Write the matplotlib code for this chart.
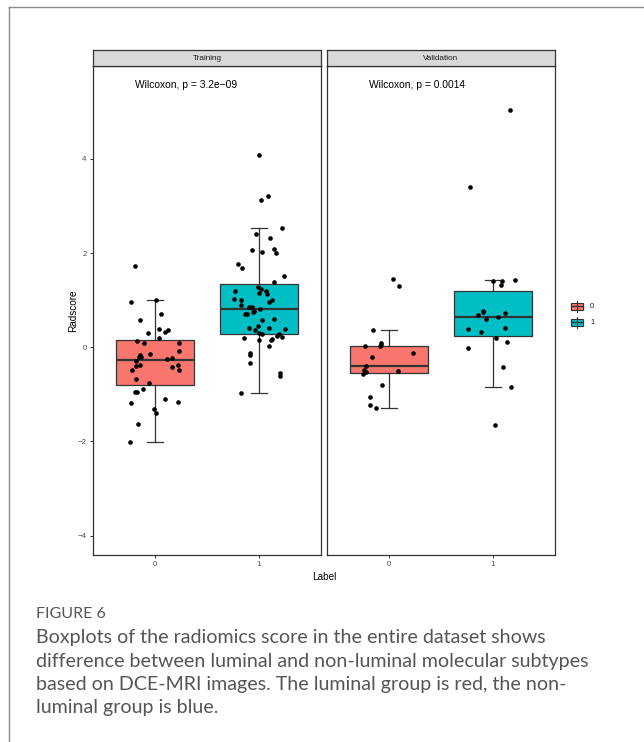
import numpy as np
import matplotlib.pyplot as plt
from matplotlib.patches import Rectangle
from matplotlib.lines import Line2D

# ---- data ----
groups = ['0', '1']
colors = ['#F8766D', '#00BFC4']
panels = ['Training', 'Validation']
pvals = ['Wilcoxon, p = 3.2e\u221209', 'Wilcoxon, p = 0.0014']

# box statistics (group 0, group 1)
tr_q1 = [-0.794, 0.289]
tr_med = [-0.263, 0.813]
tr_q3 = [0.155, 1.344]
tr_lo = [-2.01, -0.97]
tr_hi = [1.0, 2.526]

va_q1 = [-0.552, 0.234]
va_med = [-0.39, 0.637]
va_q3 = [0.034, 1.189]
va_lo = [-1.282, -0.849]
va_hi = [0.374, 1.435]

# jittered points: radscore and horizontal jitter offset
tr0_y = [1.726, 0.955, 0.998, 0.71, 0.58, 0.297, 0.389, 0.367, 0.331, 0.204, 0.14, 0.098, 0.085,
         -0.085, -0.142, -0.157, -0.2, -0.212, -0.242, -0.221, -0.297, -0.382, -0.397, -0.418,
         -0.488, -0.369, -0.475, -0.667, -0.758, -0.949, -0.955, -0.892, -1.176, -1.098, -1.168,
         -1.31, -1.401, -1.622, -2.017]
tr0_j = [-0.195, -0.23, 0.012, 0.052, -0.15, -0.066, 0.037, 0.127, 0.098, 0.034, -0.179, -0.104, 0.23,
         0.23, -0.05, -0.15, -0.137, -0.159, 0.118, 0.159, -0.188, -0.143, -0.185, 0.159,
         -0.22, 0.22, 0.227, -0.188, -0.056, -0.191, -0.172, -0.114, -0.234, 0.095, 0.22,
         -0.014, 0.005, -0.169, -0.246]

tr1_y = [4.076, 3.127, 3.212, 2.526, 2.399, 2.32, 2.066, 2.023, 2.094, 2.009, 1.769, 1.684, 1.514,
         1.386, 1.287, 1.244, 1.195, 1.202, 1.153, 1.125, 1.032, 1.004, 0.998, 0.962, 0.904, 0.862,
         0.85, 0.82, 0.764, 0.743, 0.713, 0.70, 0.58, 0.594, 0.452, 0.41, 0.36, 0.41, 0.395, 0.297,
         0.282, 0.282, 0.225, 0.24, 0.176, 0.149, 0.191, 0.149, 0.021, -0.121, -0.163, -0.34,
         -0.539, -0.603, -0.97]
tr1_j = [0.005, 0.021, 0.092, 0.221, -0.027, 0.108, -0.069, 0.031, 0.147, 0.163, -0.201, -0.162, 0.24,
         0.147, -0.011, 0.018, -0.23, 0.069, 0.002, 0.076, -0.239, -0.175, 0.127, 0.101, -0.175, -0.097,
         -0.066, 0.012, -0.043, -0.053, -0.13, -0.117, 0.028, 0.147, -0.011, -0.097, -0.034, 0.096, 0.253, 0.002,
         0.034, 0.192, 0.227, 0.179, 0.13, 0.121, -0.146, 0.005, 0.096, -0.085, -0.088, -0.088,
         0.208, 0.202, -0.175]

va0_y = [1.457, 1.308, 0.374, 0.034, 0.09, 0.05, 0.02, -0.121, -0.2, -0.39, -0.48, -0.57, -0.52,
         -0.51, -0.794, -1.049, -1.219, -1.282]
va0_j = [0.037, 0.092, -0.159, -0.234, -0.079, -0.081, -0.086, 0.23, -0.163, -0.221, -0.246, -0.256, -0.224,
         0.082, -0.072, -0.182, -0.185, -0.125]

va1_y = [5.038, 3.41, 1.408, 1.414, 1.323, 1.435, 0.777, 0.75, 0.679, 0.601, 0.637, 0.735, 0.382,
         0.325, 0.41, 0.197, 0.113, -0.021, -0.418, -0.849, -1.656]
va1_j = [0.166, -0.22, 0.002, 0.086, 0.082, 0.211, -0.097, -0.095, -0.143, -0.063, 0.053, 0.115, -0.239,
         -0.117, 0.118, 0.031, 0.134, -0.239, 0.098, 0.176, 0.024]

stats = [(tr_q1, tr_med, tr_q3, tr_lo, tr_hi), (va_q1, va_med, va_q3, va_lo, va_hi)]
points = [[(tr0_y, tr0_j), (tr1_y, tr1_j)], [(va0_y, va0_j), (va1_y, va1_j)]]

# ---- figure ----
W, H = 644, 742
fig = plt.figure(figsize=(W / 100, H / 100), dpi=100)
plt.rcParams['font.family'] = ['Liberation Sans', 'DejaVu Sans']

def fx(px):
    return px / W

def fy(py):
    return 1 - py / H

dark = '#333333'
grey_txt = '#4D4D4D'
panel_x = [(93, 321), (327, 555)]
top, bot, strip_top = 66, 555, 50

for k, (x0, x1) in enumerate(panel_x):
    ax = fig.add_axes([fx(x0), fy(bot), fx(x1 - x0), (bot - top) / H])
    q1, med, q3, lo, hi = stats[k]
    bstats = [dict(q1=q1[i], med=med[i], q3=q3[i], whislo=lo[i], whishi=hi[i], fliers=[])
              for i in range(2)]
    res = ax.bxp(bstats, positions=[0, 1], widths=0.75, capwidths=0.15, patch_artist=True,
                 showfliers=False,
                 boxprops=dict(edgecolor=dark, linewidth=0.9),
                 medianprops=dict(color=dark, linewidth=1.6),
                 whiskerprops=dict(color=dark, linewidth=0.9),
                 capprops=dict(color=dark, linewidth=0.9))
    for patch, c in zip(res['boxes'], colors):
        patch.set_facecolor(c)
    for i, (yy, jj) in enumerate(points[k]):
        ax.scatter(i + np.array(jj), yy, s=11, color='black', zorder=5, linewidths=0)
    ax.text(-0.19, 5.57, pvals[k], ha='left', va='center', fontsize=7.4, color='black')

    ax.set_xlim(-0.6, 1.6)
    ax.set_ylim(-4.41, 5.97)
    ax.set_xticks([0, 1])
    ax.set_xticklabels(groups)
    ax.set_yticks([-4, -2, 0, 2, 4])
    if k > 0:
        ax.tick_params(axis='y', left=False, labelleft=False)
    ax.tick_params(length=2.5, width=0.7, color=dark, labelsize=5.7, labelcolor=grey_txt, pad=2)
    for sp in ax.spines.values():
        sp.set_color(dark)
        sp.set_linewidth(0.9)

    # facet strip
    sax = fig.add_axes([fx(x0), fy(top), fx(x1 - x0), (top - strip_top) / H])
    sax.set_facecolor('#D9D9D9')
    sax.set_xticks([])
    sax.set_yticks([])
    for sp in sax.spines.values():
        sp.set_color(dark)
        sp.set_linewidth(0.9)
    sax.text(0.5, 0.5, panels[k], transform=sax.transAxes, ha='center', va='center',
             fontsize=5.9, color='#1A1A1A')

fig.text(fx(73), fy(311), 'Radscore', rotation=90, ha='center', va='center', fontsize=7.2)
fig.text(fx(324), fy(577), 'Label', ha='center', va='center', fontsize=7.2)

# legend with boxplot key glyphs
lax = fig.add_axes([fx(566), fy(332), fx(40), 36 / H])
lax.set_xlim(566, 606)
lax.set_ylim(332, 296)
lax.axis('off')
for i, (c, yc) in enumerate(zip(colors, [306, 322])):
    lax.add_line(Line2D([576.5, 576.5], [yc - 5.5, yc + 5.5], color=dark, lw=0.8))
    lax.add_patch(Rectangle((570.5, yc - 3.5), 12, 7, facecolor=c, edgecolor=dark, lw=0.8))
    lax.add_line(Line2D([570.5, 582.5], [yc, yc], color=dark, lw=1.0))
    lax.text(590, yc, groups[i], ha='left', va='center', fontsize=5.5, color='#1A1A1A')

# outer frame lines
fig.add_artist(Line2D([fx(9), 1], [fy(7), fy(7)], color='#8C8C8C', lw=1.0))
fig.add_artist(Line2D([fx(9), fx(9)], [fy(7), 0], color='#8C8C8C', lw=1.0))

# caption
cap_font = ['Lato', 'DejaVu Sans']
fig.text(fx(36), fy(614), 'FIGURE 6', ha='left', va='center', fontsize=11.5,
         color='#555555', family=cap_font)
cap_lines = ['Boxplots of the radiomics score in the entire dataset shows',
             'difference between luminal and non-luminal molecular subtypes',
             'based on DCE-MRI images. The luminal group is red, the non-',
             'luminal group is blue.']
for i, line in enumerate(cap_lines):
    fig.text(fx(36), fy(638 + 23.2 * i), line, ha='left', va='center', fontsize=14.1,
             color='#555555', family=cap_font)

fig.savefig('out.png', dpi=100)
